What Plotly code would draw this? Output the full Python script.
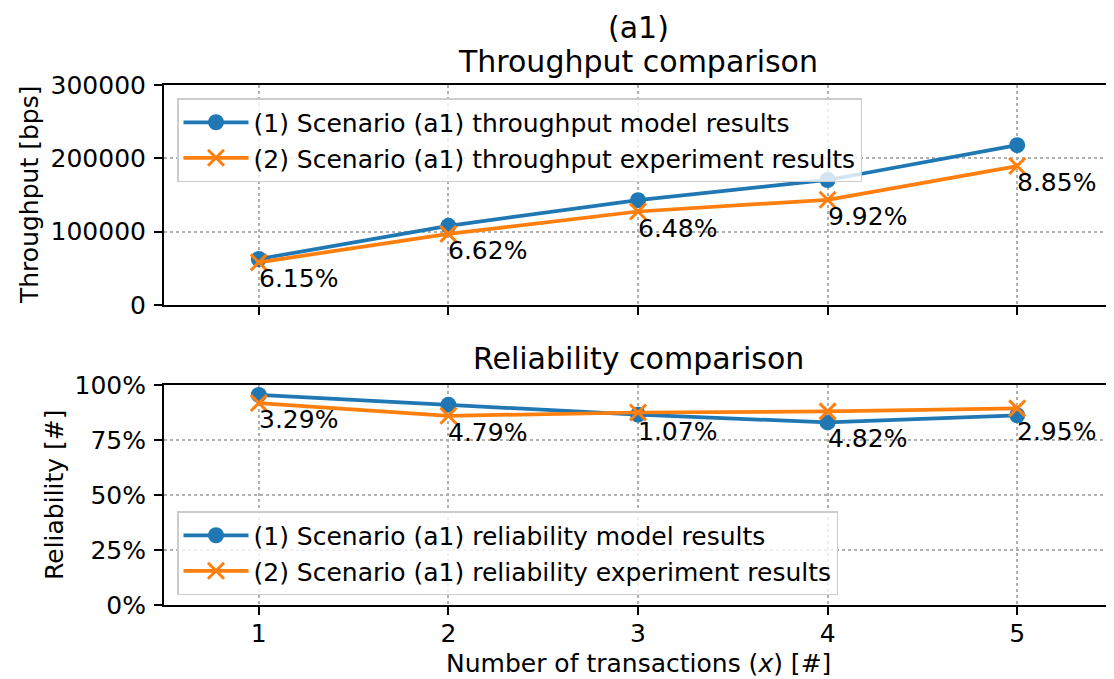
import plotly.graph_objects as go

# data
transactions = [1, 2, 3, 4, 5]
throughput_model = [62700, 108000, 143000, 170500, 218000]
throughput_experiment = [58200, 97000, 127500, 143500, 189500]
throughput_diff = ["6.15%", "6.62%", "6.48%", "9.92%", "8.85%"]
reliability_model = [95.5, 91.0, 86.5, 83.0, 86.2]
reliability_experiment = [91.8, 86.0, 87.5, 88.0, 89.4]
reliability_diff = ["3.29%", "4.79%", "1.07%", "4.82%", "2.95%"]
reliability_ticks = [0, 25, 50, 75, 100]

BLUE = "#1f77b4"
ORANGE = "#ff7f0e"
FONT = "DejaVu Sans"
PAGE_MARGIN = 8  # default body margin of the html page
W, H = 1114 - PAGE_MARGIN, 679 - PAGE_MARGIN


def px_x(x: float) -> float:
    """screen x (reference pixels) -> paper x"""
    return (x - PAGE_MARGIN) / W


def px_y(y: float) -> float:
    """screen y (reference pixels) -> paper y"""
    return 1 - (y - PAGE_MARGIN) / H


def model_trace(x, y, name, xaxis, yaxis, legend):
    return go.Scatter(
        x=x, y=y, name=name, mode="lines+markers",
        line=dict(color=BLUE, width=3.75),
        marker=dict(symbol="circle", size=16, color=BLUE),
        xaxis=xaxis, yaxis=yaxis, legend=legend,
    )


def experiment_trace(x, y, name, xaxis, yaxis, legend):
    return go.Scatter(
        x=x, y=y, name=name, mode="lines+markers",
        line=dict(color=ORANGE, width=3.75),
        marker=dict(symbol="x-thin", size=16, color=ORANGE,
                    line=dict(color=ORANGE, width=3)),
        xaxis=xaxis, yaxis=yaxis, legend=legend,
    )


fig = go.Figure()
fig.add_trace(model_trace(transactions, throughput_model,
                          "(1) Scenario (a1) throughput model results", "x", "y", "legend"))
fig.add_trace(experiment_trace(transactions, throughput_experiment,
                               "(2) Scenario (a1) throughput experiment results", "x", "y", "legend"))
fig.add_trace(model_trace(transactions, reliability_model,
                          "(1) Scenario (a1) reliability model results", "x2", "y2", "legend2"))
fig.add_trace(experiment_trace(transactions, reliability_experiment,
                               "(2) Scenario (a1) reliability experiment results", "x2", "y2", "legend2"))

annotations = []
for x, m, e, t in zip(transactions, throughput_model, throughput_experiment, throughput_diff):
    annotations.append(dict(x=x, y=min(m, e), xref="x", yref="y", text=t, showarrow=False,
                            xanchor="left", yanchor="top", xshift=-2, font=dict(size=25)))
for x, m, e, t in zip(transactions, reliability_model, reliability_experiment, reliability_diff):
    annotations.append(dict(x=x, y=min(m, e), xref="x2", yref="y2", text=t, showarrow=False,
                            xanchor="left", yanchor="top", xshift=-2, font=dict(size=25)))

# titles and axis labels
center_x = px_x(638)
annotations += [
    dict(x=center_x, y=px_y(28), xref="paper", yref="paper", text="(a1)", showarrow=False,
         xanchor="center", yanchor="middle", font=dict(size=30)),
    dict(x=center_x, y=px_y(61), xref="paper", yref="paper", text="Throughput comparison",
         showarrow=False, xanchor="center", yanchor="middle", font=dict(size=30)),
    dict(x=center_x, y=px_y(359), xref="paper", yref="paper", text="Reliability comparison",
         showarrow=False, xanchor="center", yanchor="middle", font=dict(size=30)),
    dict(x=px_x(30), y=px_y(195), xref="paper", yref="paper", text="Throughput [bps]",
         showarrow=False, textangle=-90, xanchor="center", yanchor="middle", font=dict(size=25)),
    dict(x=px_x(54), y=px_y(495), xref="paper", yref="paper", text="Reliability [#]",
         showarrow=False, textangle=-90, xanchor="center", yanchor="middle", font=dict(size=25)),
    dict(x=center_x, y=px_y(663), xref="paper", yref="paper",
         text="Number of transactions (<i>x</i>) [#]",
         showarrow=False, xanchor="center", yanchor="middle", font=dict(size=25)),
]

axis_style = dict(
    showline=True, linecolor="black", linewidth=2, mirror=True,
    ticks="outside", ticklen=8, tickwidth=2, tickcolor="black",
    showgrid=True, gridcolor="#b0b0b0", gridwidth=1.5, griddash="dot",
    zeroline=False, automargin=False, tickfont=dict(size=25, color="black"),
)
x_domain = [px_x(164), min(px_x(1112), 1.0)]

legend_style = dict(
    bgcolor="rgba(255,255,255,0.8)", bordercolor="#cccccc", borderwidth=1.5,
    font=dict(size=25, color="black"), xanchor="left", yanchor="top", itemwidth=65,
)

fig.update_layout(
    width=W, height=H,
    margin=dict(l=0, r=0, t=0, b=0, autoexpand=False),
    paper_bgcolor="white", plot_bgcolor="white",
    font=dict(family=FONT, color="black"),
    xaxis=dict(axis_style, domain=x_domain, range=[0.5, 5.5], tickvals=transactions,
               showticklabels=False, anchor="y"),
    yaxis=dict(axis_style, domain=[px_y(305), px_y(85)], range=[0, 300000],
               tickvals=[0, 100000, 200000, 300000], tickformat="d", anchor="x",
               ticklabelstandoff=3),
    xaxis2=dict(axis_style, domain=x_domain, range=[0.5, 5.5], tickvals=transactions,
                anchor="y2", ticklabelstandoff=-3),
    yaxis2=dict(axis_style, domain=[px_y(605), px_y(385)], range=[0, 100],
                tickvals=reliability_ticks,
                ticktext=[f"{v}%" for v in reliability_ticks], anchor="x2",
                ticklabelstandoff=3),
    legend=dict(legend_style, x=px_x(177), y=px_y(98)),
    legend2=dict(legend_style, x=px_x(177), y=px_y(511)),
    annotations=annotations,
    showlegend=True,
)

fig.write_html("out.html")
